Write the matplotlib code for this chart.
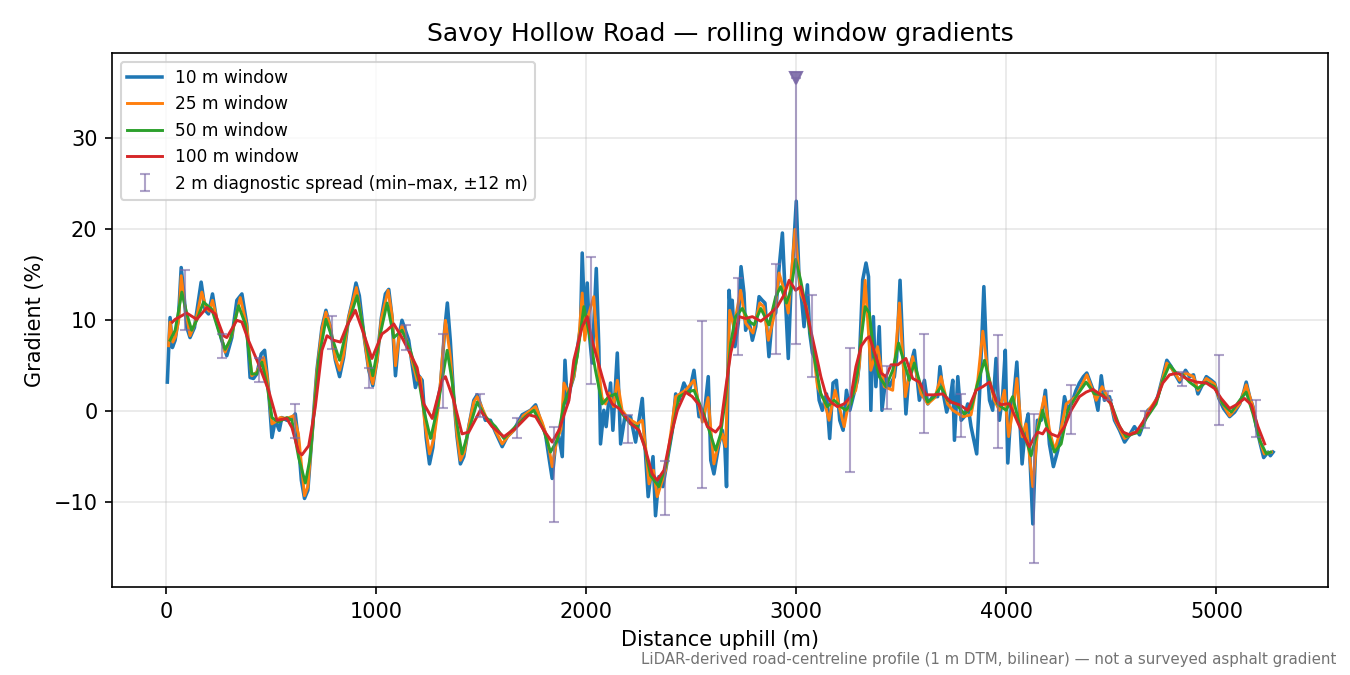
import matplotlib

matplotlib.use("Agg")
import matplotlib.pyplot as plt
import numpy as np

# 10 m window (distance m, gradient %)
dist_10 = [6, 19, 30, 43, 59, 72, 83, 99, 114, 135, 167, 186, 202, 221, 242, 265, 289, 313, 337, 361,
           384, 400, 416, 432, 453, 469, 488, 504, 520, 539, 551, 575, 599, 615, 628, 644, 659, 675, 694, 718,
           742, 761, 782, 806, 826, 845, 869, 888, 904, 920, 941, 965, 984, 1004, 1025, 1044, 1060, 1076, 1092, 1108,
           1123, 1139, 1155, 1171, 1187, 1203, 1219, 1238, 1254, 1270, 1286, 1306, 1326, 1339, 1353, 1369, 1385, 1401, 1417, 1441,
           1465, 1481, 1496, 1520, 1544, 1568, 1600, 1624, 1655, 1695, 1735, 1759, 1782, 1806, 1822, 1838, 1854, 1870, 1886, 1899,
           1910, 1926, 1941, 1957, 1973, 1981, 1993, 2005, 2016, 2028, 2048, 2060, 2068, 2084, 2095, 2116, 2127, 2148, 2164, 2184,
           2211, 2235, 2267, 2283, 2295, 2318, 2330, 2346, 2365, 2386, 2410, 2426, 2442, 2465, 2489, 2513, 2537, 2561, 2581, 2593,
           2608, 2632, 2648, 2660, 2668, 2680, 2688, 2695, 2708, 2724, 2737, 2751, 2759, 2775, 2791, 2807, 2823, 2838, 2851, 2870,
           2886, 2902, 2918, 2934, 2947, 2962, 2974, 2985, 3000, 3013, 3026, 3037, 3053, 3064, 3077, 3093, 3109, 3124, 3144, 3159,
           3175, 3191, 3207, 3223, 3239, 3255, 3271, 3291, 3300, 3316, 3332, 3344, 3355, 3367, 3379, 3395, 3408, 3427, 3443, 3467,
           3478, 3494, 3506, 3522, 3538, 3562, 3586, 3610, 3626, 3649, 3673, 3684, 3700, 3716, 3732, 3745, 3753, 3769, 3785, 3800,
           3816, 3832, 3859, 3875, 3893, 3907, 3920, 3935, 3951, 3967, 3983, 3995, 4007, 4023, 4034, 4050, 4062, 4075, 4091, 4104,
           4113, 4126, 4138, 4148, 4166, 4186, 4205, 4224, 4245, 4261, 4277, 4293, 4316, 4332, 4348, 4367, 4383, 4404, 4420, 4436,
           4452, 4467, 4491, 4515, 4539, 4563, 4587, 4610, 4634, 4642, 4674, 4697, 4721, 4745, 4764, 4785, 4805, 4825, 4853, 4872,
           4891, 4912, 4933, 4952, 4976, 4991, 5012, 5034, 5063, 5087, 5111, 5130, 5142, 5158, 5174, 5190, 5209, 5225, 5246, 5257,
           5270]
grad_10 = [3.2, 10.3, 7.0, 7.8, 10.3, 15.8, 13.3, 9.2, 8.1, 9.2, 14.2, 11.1, 10.7, 12.9, 9.8, 7.8, 6.1, 8.1, 12.2, 12.9,
           9.6, 3.7, 3.6, 4.1, 6.3, 6.7, 2.3, -2.9, -1.0, -2.1, -0.7, -1.0, -0.8, -0.3, -2.9, -7.6, -9.6, -8.7, -2.9, 4.5,
           9.2, 11.1, 9.2, 5.6, 3.8, 5.9, 10.3, 12.2, 14.1, 12.7, 8.5, 4.5, 2.8, 5.6, 10.3, 12.9, 13.4, 10.3, 3.9, 8.1,
           10.0, 8.9, 7.8, 5.2, 2.6, 3.9, 3.4, -2.9, -5.8, -4.0, 0.4, 2.7, 8.9, 11.9, 7.8, 1.6, -2.8, -5.8, -5.0, -1.7,
           1.2, 1.8, 0.8, -1.0, -1.0, -2.3, -3.9, -2.8, -2.1, -0.4, 0.1, 0.7, -1.0, -2.5, -5.0, -7.4, -3.6, -2.8, -5.0, 5.6,
           0.8, 2.7, 3.8, 6.7, 9.3, 17.4, 9.7, 14.1, 8.2, 5.3, 15.7, 7.1, -3.6, 0.1, -1.7, 3.1, -2.1, 6.4, -3.6, -0.6,
           -0.6, -3.4, 1.4, -5.0, -9.4, -5.0, -11.5, -7.2, -8.3, -5.4, -2.1, 1.9, 1.2, 3.1, 1.9, 4.5, -0.6, -0.6, 3.8, -5.4,
           -6.9, -3.6, -2.1, -3.9, -8.3, 13.3, 10.8, 12.2, 7.1, 9.7, 15.9, 13.0, 8.9, 10.0, 7.8, 9.3, 12.6, 12.2, 11.9, 6.0,
           10.4, 10.8, 15.7, 19.6, 13.0, 5.8, 13.0, 17.0, 23.1, 14.8, 12.2, 9.3, 13.9, 8.6, 6.4, 5.6, 1.2, 0.1, 1.9, -3.0,
           3.1, 3.4, -1.0, -2.1, 2.3, 0.1, 1.6, 3.4, 5.3, 14.4, 16.3, 14.8, 0.1, 10.4, 2.7, 9.3, 0.1, 3.8, 2.7, 3.8,
           6.0, 14.4, 7.5, -0.3, 4.5, 6.7, 1.2, 3.4, 0.8, 1.6, 1.6, 4.9, 1.9, -0.1, 1.2, 3.4, -3.2, 3.8, -1.0, -0.6,
           0.8, -1.7, -4.7, 3.1, 13.7, 5.3, 1.2, 0.1, 5.8, -1.0, 1.9, 6.7, -5.7, 0.5, 1.2, 5.4, 0.1, -5.8, -1.7, -0.3,
           -5.4, -12.4, -5.0, -1.0, -1.0, 2.3, -3.6, -6.1, -4.3, -1.7, 1.6, 0.1, 1.2, 2.3, 3.1, 3.8, 4.2, 2.9, 1.9, 0.1,
           3.9, 1.2, 1.6, -1.0, -2.1, -3.4, -2.6, -1.7, -2.6, -2.1, 0.1, 0.5, 1.6, 3.8, 5.6, 4.9, 4.0, 3.2, 4.5, 3.8,
           4.0, 1.9, 2.9, 3.8, 3.4, 3.1, 1.4, 0.3, -0.6, -0.1, 0.8, 2.1, 3.2, 1.6, 0.5, -1.7, -3.6, -5.1, -4.5, -4.9,
           -4.5]

# 25 m window
dist_25 = [12, 19, 32, 45, 60, 72, 88, 114, 140, 170, 190, 205, 221, 245, 281, 313, 353, 385, 408, 432,
           464, 480, 504, 525, 543, 575, 607, 630, 659, 675, 694, 718, 742, 761, 782, 806, 826, 845, 869, 906,
           941, 965, 984, 1004, 1025, 1057, 1076, 1092, 1108, 1123, 1155, 1195, 1211, 1230, 1254, 1275, 1298, 1314, 1330, 1353,
           1369, 1385, 1401, 1420, 1441, 1465, 1481, 1500, 1530, 1560, 1600, 1630, 1660, 1700, 1759, 1790, 1815, 1838, 1860, 1880,
           1894, 1915, 1941, 1960, 1981, 1993, 2010, 2036, 2060, 2075, 2092, 2110, 2130, 2148, 2171, 2200, 2243, 2267, 2283, 2299,
           2320, 2338, 2378, 2405, 2426, 2473, 2513, 2553, 2580, 2608, 2630, 2648, 2664, 2683, 2703, 2735, 2759, 2794, 2826, 2845,
           2867, 2895, 2918, 2942, 2962, 2994, 3021, 3048, 3077, 3101, 3132, 3156, 3185, 3228, 3252, 3283, 3300, 3328, 3355, 3387,
           3419, 3459, 3491, 3519, 3554, 3594, 3626, 3660, 3689, 3720, 3745, 3793, 3832, 3864, 3888, 3912, 3943, 3967, 3991, 4011,
           4038, 4050, 4075, 4094, 4126, 4150, 4181, 4205, 4229, 4260, 4285, 4332, 4383, 4428, 4456, 4491, 4520, 4563, 4600, 4634,
           4674, 4721, 4745, 4764, 4790, 4825, 4853, 4891, 4912, 4952, 4991, 5012, 5063, 5111, 5142, 5174, 5209, 5228, 5262]
grad_25 = [7.2, 9.8, 7.6, 8.2, 10.0, 14.9, 11.8, 8.3, 9.8, 13.1, 11.4, 11.0, 12.2, 9.8, 6.5, 8.4, 12.5, 9.3, 3.9, 4.3,
           5.9, 4.0, -1.4, -1.1, -0.7, -0.8, -0.5, -2.5, -9.3, -8.3, -3.0, 4.3, 9.0, 10.9, 9.3, 5.8, 4.5, 6.2, 10.3, 13.6,
           8.5, 4.6, 3.0, 5.5, 10.2, 13.3, 10.5, 5.0, 8.0, 9.4, 7.0, 3.4, 3.7, -1.0, -4.7, -3.0, 0.8, 5.5, 10.0, 6.0,
           1.5, -2.5, -5.4, -4.5, -1.6, 1.0, 1.6, 0.6, -1.0, -1.8, -3.6, -2.7, -2.0, -0.5, 0.5, -1.2, -3.0, -6.1, -3.2, -2.0,
           3.1, 2.0, 3.8, 6.5, 13.0, 7.8, 10.5, 12.6, 4.5, 1.5, 0.8, 2.0, 0.5, 3.4, 0.1, -0.8, -1.4, -1.0, -4.0, -8.0,
           -6.5, -9.4, -6.5, -2.0, 1.6, 2.3, 3.4, -1.2, 1.5, -5.8, -3.5, -2.5, -3.9, 11.1, 9.3, 13.3, 9.7, 8.6, 11.9, 11.5,
           7.8, 10.5, 15.2, 13.3, 10.8, 20.0, 13.0, 11.5, 7.5, 2.7, 1.2, -1.0, 2.3, -1.7, 1.2, 2.3, 5.0, 14.4, 4.5, 7.1,
           2.7, 2.3, 11.9, 1.6, 6.0, 1.9, 0.8, 1.5, 3.8, 0.8, 0.1, -0.6, -0.4, 3.4, 8.8, 4.2, 1.2, 0.1, 2.3, -2.8,
           1.2, 3.6, -2.8, -1.4, -8.3, -1.7, 1.6, -2.0, -4.3, -2.0, 0.8, 1.6, 4.0, 1.2, 2.7, 1.2, -1.0, -3.0, -2.4, -2.3,
           0.0, 1.5, 3.6, 5.3, 4.6, 3.4, 4.2, 3.8, 2.3, 3.6, 3.0, 1.5, -0.5, 0.8, 2.9, 0.5, -3.4, -4.7, -4.5]

# 50 m window
dist_50 = [19, 43, 75, 99, 122, 146, 178, 218, 249, 281, 305, 345, 377, 408, 432, 456, 480, 504, 535, 575,
           599, 631, 663, 686, 726, 761, 790, 826, 861, 909, 949, 984, 1020, 1052, 1084, 1123, 1163, 1203, 1227, 1259,
           1290, 1314, 1338, 1361, 1385, 1409, 1441, 1481, 1520, 1568, 1608, 1663, 1711, 1751, 1798, 1830, 1862, 1894, 1926, 1957,
           1989, 2020, 2044, 2076, 2108, 2140, 2171, 2211, 2243, 2275, 2307, 2346, 2378, 2410, 2442, 2481, 2513, 2553, 2585, 2616,
           2640, 2664, 2688, 2711, 2743, 2775, 2799, 2831, 2870, 2902, 2926, 2953, 2974, 2997, 3021, 3045, 3069, 3093, 3117, 3148,
           3180, 3212, 3236, 3260, 3291, 3308, 3328, 3348, 3371, 3395, 3427, 3459, 3487, 3514, 3538, 3562, 3594, 3626, 3657, 3689,
           3721, 3761, 3800, 3832, 3864, 3896, 3927, 3959, 3975, 3999, 4030, 4062, 4094, 4118, 4142, 4173, 4205, 4229, 4261, 4293,
           4332, 4380, 4420, 4460, 4499, 4539, 4571, 4603, 4634, 4666, 4713, 4745, 4777, 4809, 4840, 4872, 4912, 4952, 4991, 5031,
           5071, 5111, 5142, 5174, 5206, 5238, 5258]
grad_50 = [7.8, 8.9, 13.1, 10.7, 8.9, 10.0, 12.0, 11.2, 8.9, 6.8, 7.8, 11.6, 9.6, 4.1, 4.1, 5.4, 3.0, -0.7, -1.2, -0.7,
           -1.0, -5.1, -7.9, -5.1, 5.6, 10.1, 8.1, 5.6, 9.2, 12.7, 7.8, 3.9, 8.5, 11.9, 8.1, 8.9, 6.7, 3.4, 0.1, -3.0,
           0.1, 3.4, 6.7, 3.4, -1.4, -4.7, -2.1, 1.0, -0.6, -1.7, -3.0, -1.7, -0.6, 0.1, -2.1, -4.5, -3.2, 0.8, 2.7, 6.0,
           11.5, 7.8, 4.5, 0.8, 1.6, 1.9, -0.3, -1.4, -1.7, -3.6, -7.1, -8.3, -6.1, -2.1, 1.6, 2.1, 2.3, 0.1, -2.1, -4.3,
           -2.5, 1.6, 7.5, 10.4, 11.3, 9.9, 9.5, 11.3, 9.5, 12.6, 13.7, 11.9, 13.3, 16.7, 14.4, 11.5, 8.2, 4.9, 1.9, 0.5,
           1.2, 0.5, 0.1, 0.8, 4.2, 7.8, 11.5, 10.8, 6.0, 3.8, 2.7, 4.5, 7.5, 5.3, 3.4, 5.3, 2.7, 1.0, 1.6, 2.7,
           1.2, 0.8, -0.3, 0.3, 3.1, 5.6, 2.7, 0.8, 0.5, 0.1, 1.6, -1.4, -3.2, -4.9, -2.8, 0.1, -2.8, -4.5, -3.6, 0.1,
           1.6, 3.2, 1.9, 1.8, 0.8, -1.7, -2.8, -2.5, -2.3, -0.8, 0.8, 3.4, 5.1, 4.2, 4.0, 3.2, 2.5, 3.2, 2.7, 0.8,
           -0.1, 1.2, 2.1, -0.3, -3.2, -4.7, -4.5]

# 100 m window
dist_100 = [30, 43, 98, 146, 194, 234, 273, 289, 337, 361, 392, 440, 488, 528, 575, 599, 631, 647, 679, 710,
            742, 766, 798, 830, 861, 901, 941, 980, 1028, 1052, 1084, 1123, 1163, 1195, 1227, 1267, 1314, 1330, 1369, 1409,
            1441, 1496, 1552, 1608, 1663, 1727, 1759, 1798, 1838, 1870, 1918, 1941, 1965, 1981, 2005, 2028, 2052, 2076, 2100, 2124,
            2156, 2187, 2219, 2251, 2283, 2314, 2338, 2370, 2402, 2434, 2473, 2505, 2537, 2577, 2616, 2640, 2664, 2688, 2711, 2727,
            2759, 2791, 2831, 2870, 2910, 2942, 2966, 2997, 3021, 3045, 3069, 3093, 3117, 3140, 3164, 3196, 3228, 3260, 3284, 3310,
            3335, 3348, 3379, 3403, 3427, 3451, 3483, 3522, 3554, 3586, 3618, 3657, 3697, 3737, 3777, 3816, 3856, 3888, 3920, 3951,
            3975, 3999, 4015, 4046, 4078, 4110, 4134, 4150, 4173, 4189, 4213, 4245, 4277, 4309, 4348, 4380, 4412, 4444, 4475, 4499,
            4523, 4555, 4587, 4618, 4650, 4666, 4713, 4745, 4777, 4817, 4856, 4904, 4952, 4991, 5023, 5063, 5095, 5134, 5166, 5198,
            5230]
grad_100 = [9.8, 10.1, 10.8, 10.1, 11.4, 10.7, 8.3, 8.1, 10.0, 9.8, 7.8, 5.2, 2.3, -1.0, -0.8, -1.8, -4.5, -4.8, -3.8, 0.4,
            6.7, 8.3, 7.8, 7.6, 9.4, 11.1, 8.5, 5.8, 8.5, 8.9, 9.6, 8.1, 6.3, 4.8, 0.8, -0.8, 3.4, 3.8, 1.2, -2.5,
            -2.3, 0.1, -1.7, -2.8, -1.9, -0.4, -0.6, -2.1, -3.4, -2.1, 1.2, 5.6, 7.8, 9.3, 10.4, 7.8, 5.8, 3.8, 1.9, 0.8,
            0.3, -0.6, -1.5, -2.1, -4.3, -6.9, -7.6, -6.5, -2.8, 0.1, 2.1, 1.6, 0.7, -1.7, -2.3, -1.6, 2.5, 6.4, 8.6, 10.4,
            10.2, 10.4, 9.9, 10.6, 11.5, 12.8, 14.4, 13.3, 13.7, 11.5, 8.9, 6.4, 3.8, 1.9, 1.0, 0.5, 0.8, 1.6, 4.9, 7.2,
            8.0, 8.2, 6.0, 4.2, 3.8, 5.1, 5.1, 5.8, 3.6, 3.2, 1.8, 1.8, 1.9, 1.0, 0.7, 0.1, 2.3, 2.7, 3.2, 1.2,
            0.7, 0.8, 0.8, -0.8, -2.5, -3.9, -2.8, -2.3, -2.5, -1.9, -2.5, -2.8, -1.7, 0.1, 1.6, 2.1, 2.4, 1.9, 1.4, 0.8,
            -1.0, -2.3, -2.6, -2.3, -1.2, -0.6, 1.2, 3.1, 4.0, 4.2, 3.6, 3.2, 3.1, 2.5, 1.4, 0.3, 0.7, 1.4, 0.7, -1.7,
            -3.6]

# 2 m diagnostic spread (min / max within +-12 m)
spread_dist = [88, 265, 443, 615, 790, 968, 1144, 1318, 1493, 1671, 1846, 2025, 2200, 2373, 2550, 2724,
               2902, 3000, 3077, 3255, 3430, 3607, 3785, 3959, 4131, 4309, 4483, 4660, 4837, 5012, 5187]
spread_min = [8.9, 5.9, 3.2, -3.0, 6.8, 2.6, 6.7, 0.3, -0.6, -2.9, -12.2, 3.0, -3.5, -11.4, -8.5, 6.2,
              6.3, 7.4, 3.8, -6.7, 0.2, -2.4, -2.8, -4.0, -16.7, -2.5, 1.2, -1.8, 2.8, -1.5, -2.8]
spread_max = [15.5, 8.5, 5.8, 0.8, 10.5, 4.8, 9.5, 8.5, 1.9, -0.7, -1.7, 17.0, -0.4, -5.5, 9.9, 14.7,
              16.2, 36.7, 12.8, 7.0, 5.0, 8.5, 1.9, 8.4, -0.3, 2.9, 2.2, 0.0, 4.3, 6.2, 1.2]

peak_dist = 3000
peak_grad = 36.7

fig, ax = plt.subplots(figsize=(9, 4.5), dpi=150)
fig.subplots_adjust(left=0.083, right=0.984, top=0.921, bottom=0.130)

ax.plot(dist_10, grad_10, color="#1f77b4", lw=1.7, label="10 m window", zorder=2)
ax.plot(dist_25, grad_25, color="#ff7f0e", lw=1.4, label="25 m window", zorder=3)
ax.plot(dist_50, grad_50, color="#2ca02c", lw=1.4, label="50 m window", zorder=4)
ax.plot(dist_100, grad_100, color="#d62728", lw=1.4, label="100 m window", zorder=5)

lo = np.array(spread_min)
hi = np.array(spread_max)
mid = (lo + hi) / 2
ax.errorbar(spread_dist, mid, yerr=[mid - lo, hi - mid], fmt="none",
            ecolor="#7a68a6", alpha=0.6, elinewidth=1.0, capsize=2.5,
            label="2 m diagnostic spread (min\u2013max, \u00b112 m)", zorder=6)
ax.plot([peak_dist], [peak_grad], marker="v", color="#7a68a6", ms=6, alpha=0.9,
        ls="none", zorder=7)

ax.set_title("Savoy Hollow Road \u2014 rolling window gradients", fontsize=12)
ax.set_xlabel("Distance uphill (m)")
ax.set_ylabel("Gradient (%)")
ax.grid(True, alpha=0.3)
ax.set_axisbelow(True)
ax.legend(loc="upper left", fontsize=8.2)

fig.text(0.99, 0.012,
         "LiDAR-derived road-centreline profile (1 m DTM, bilinear) \u2014 not a surveyed asphalt gradient",
         ha="right", va="bottom", fontsize=7.2, color="0.45")

fig.savefig("out.png", dpi=150)
